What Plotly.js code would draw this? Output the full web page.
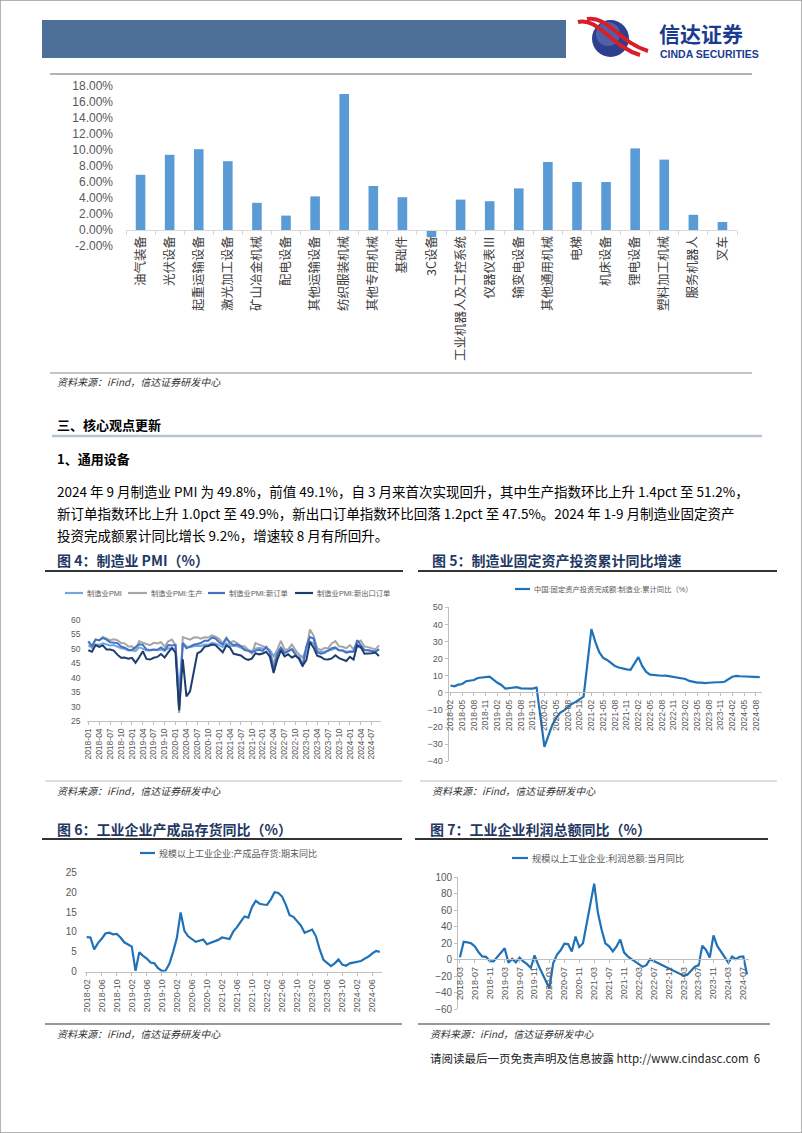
<!DOCTYPE html>
<html><head><meta charset="utf-8">
<script src="https://cdn.plot.ly/plotly-3.0.1.min.js"></script>
<style>html,body{margin:0;padding:0;background:#fff;}#page{width:802px;height:1133px;}</style>
</head><body><div id="page"></div>
<script>
// ---------------- DATA ----------------
const BAR_CATEGORIES = ['油气装备','光伏设备','起重运输设备','激光加工设备','矿山冶金机械','配电设备','其他运输设备','纺织服装机械','其他专用机械','基础件','3C设备','工业机器人及工控系统','仪器仪表Ⅲ','输变电设备','其他通用机械','电梯','机床设备','锂电设备','塑料加工机械','服务机器人','叉车'];
const BAR_VALUES = [6.9, 9.4, 10.1, 8.6, 3.4, 1.8, 4.2, 17.0, 5.5, 4.1, -0.9, 3.8, 3.6, 5.2, 8.5, 6.0, 6.0, 10.2, 8.8, 1.9, 1.0];
const BAR_TICK_VALUES = [-2, 0, 2, 4, 6, 8, 10, 12, 14, 16, 18];
const BAR_TICK_TEXT = ['-2.00%','0.00%','2.00%','4.00%','6.00%','8.00%','10.00%','12.00%','14.00%','16.00%','18.00%'];

// Fig 4: PMI, 2018-01 .. 2024-09
const PMI = [51.3,50.3,51.5,51.4,51.9,51.5,51.2,51.3,50.8,50.2,50.0,49.4, 49.5,49.2,50.5,50.1,49.4,49.4,49.7,49.5,49.8,49.3,50.2,50.2, 50.0,35.7,52.0,50.8,50.6,50.9,51.1,51.0,51.5,51.4,52.1,51.9, 51.3,50.6,51.9,51.1,51.0,50.9,50.4,50.1,49.6,49.2,50.1,50.3, 50.1,50.2,49.5,47.4,49.6,50.2,49.0,49.4,50.1,49.2,48.0,47.0, 50.1,52.6,51.9,49.2,48.8,49.0,49.3,49.7,50.2,49.5,49.4,49.0, 49.2,49.1,50.8,50.4,49.5,49.5,49.4,49.1,49.8];
const PMI_PROD = [52.6,50.7,53.1,53.1,54.1,53.6,53.0,53.3,53.0,52.0,51.9,50.8, 50.9,49.5,52.7,52.1,51.7,51.3,52.1,51.9,52.3,50.8,52.6,53.2, 51.3,27.8,54.1,53.7,53.2,53.9,54.0,53.5,54.0,53.9,54.7,54.2, 53.5,51.9,53.9,52.2,52.7,51.9,51.0,50.9,49.5,48.4,52.0,51.4, 50.9,50.4,49.5,44.4,49.7,52.8,49.8,49.8,51.5,49.6,47.8,44.6, 49.8,56.7,54.6,50.2,49.6,50.3,50.2,51.9,52.7,50.9,50.7,50.2, 51.3,49.8,52.2,52.9,50.8,50.6,50.1,49.8,51.2];
const PMI_NEWORDER = [52.6,51.0,53.3,52.9,53.8,53.2,52.3,52.2,52.0,50.8,50.4,49.7, 49.6,50.6,51.6,51.4,49.8,49.6,49.8,49.7,50.5,49.6,51.3,51.2, 51.4,29.3,52.0,50.2,50.9,51.4,51.7,52.0,52.8,52.8,53.9,53.6, 52.3,51.5,53.6,52.0,51.3,51.5,50.9,49.6,49.3,48.8,49.4,49.7, 49.3,50.7,48.8,42.6,48.2,50.4,48.5,49.2,49.8,48.1,46.4,43.9, 50.9,54.1,53.6,48.8,48.3,48.6,49.5,50.2,50.5,49.5,49.4,48.7, 49.0,49.0,53.0,51.1,49.6,49.5,49.3,48.9,49.9];
const PMI_EXPORT = [49.5,49.0,51.3,50.7,51.2,49.8,49.8,49.4,48.0,46.9,47.0,46.6, 46.9,45.2,47.1,49.2,46.5,46.3,46.9,47.2,48.2,47.0,48.8,50.3, 48.7,28.7,46.4,33.5,35.3,42.6,48.4,49.1,50.8,51.0,51.5,51.3, 50.2,48.8,51.2,50.4,48.3,48.1,47.7,46.7,46.2,46.6,48.5,48.1, 48.4,49.0,47.2,41.6,46.2,49.5,47.4,48.1,47.0,47.6,46.7,44.2, 46.1,52.4,50.4,47.6,47.2,46.4,46.3,46.7,47.8,46.8,46.3,45.8, 47.2,46.3,51.3,50.6,48.3,48.3,48.5,48.7,47.5];
const PMI_NAMES = ['制造业PMI','制造业PMI:生产','制造业PMI:新订单','制造业PMI:新出口订单'];

// Fig 5: manufacturing FAI cumulative YoY, 2018-02 .. 2024-09 (January not published)
const FAI = [4.3,3.8,4.8,5.2,6.8,7.3,7.5,8.7,9.1,9.5,9.5,
  null,5.9,4.6,2.5,2.7,3.0,3.3,2.6,2.5,2.6,2.5,3.1,
  null,-31.5,-25.2,-18.8,-14.8,-11.7,-10.2,-8.1,-6.5,-5.3,-3.5,-2.2,
  null,37.3,29.8,23.8,20.4,19.2,17.3,15.7,14.8,14.2,13.7,13.5,
  null,20.9,15.6,12.2,10.6,10.4,9.9,10.0,10.1,9.7,9.3,9.1,
  null,8.1,7.0,6.4,6.0,6.0,5.7,5.9,6.2,6.2,6.3,6.5,
  null,9.4,9.9,9.7,9.6,9.5,9.3,9.1,9.2];
const FAI_NAME = '中国:固定资产投资完成额:制造业:累计同比（%）';

// Fig 6: finished goods inventory YoY, 2018-02 .. 2024-08
const INVENTORY = [8.7,8.6,5.6,7.2,8.3,9.6,9.8,9.4,9.5,8.6,7.4,
  6.8,6.3,0.2,4.9,4.0,3.3,2.3,2.1,0.9,0.2,0.3,2.0,
  5.0,8.5,14.9,10.3,8.9,8.3,7.5,7.8,8.1,6.9,7.3,7.5,
  8.0,8.6,8.4,8.2,10.1,11.2,12.6,13.9,13.6,16.3,17.8,17.1,
  16.9,16.8,18.2,20.0,19.8,18.9,16.8,14.2,13.8,12.7,11.6,9.8,
  10.2,10.6,8.9,5.6,3.0,2.2,1.4,2.1,3.1,1.8,1.5,2.1,
  2.3,2.4,2.7,3.3,3.8,4.6,5.2,5.0];
const INVENTORY_NAME = '规模以上工业企业:产成品存货:期末同比';

// Fig 7: industrial profits monthly YoY, 2018-03 .. 2024-08
const PROFIT = [3.1,21.9,21.1,20.0,16.2,9.2,4.1,3.6,-1.8,-1.9,
  null,null,13.9,-3.7,1.1,-3.1,2.6,-2.0,-5.3,-9.9,5.4,-6.3,
  null,null,-34.9,-4.3,6.0,11.5,19.6,19.1,10.1,28.2,15.5,20.1,
  null,null,92.3,57.0,36.4,20.0,16.4,10.1,16.3,24.6,9.0,4.2,
  null,null,null,-8.5,-6.5,0.8,null,null,null,null,null,null,
  null,null,-19.2,-18.2,-12.6,-8.3,-6.7,17.2,11.9,2.7,29.5,16.8,
  null,null,-3.5,4.0,0.7,3.6,4.1,-17.8];
const PROFIT_NAME = '规模以上工业企业:利润总额:当月同比';

function monthRange(y0, m0, y1, m1) {
  const out = []; let y = y0, m = m0;
  while (y < y1 || (y === y1 && m <= m1)) { out.push(y + '-' + String(m).padStart(2, '0')); m++; if (m > 12) { m = 1; y++; } }
  return out;
}
const PMI_MONTHS = monthRange(2018, 1, 2024, 9);
const FAI_MONTHS = monthRange(2018, 2, 2024, 9);
const INV_MONTHS = monthRange(2018, 2, 2024, 8);
const PROFIT_MONTHS = monthRange(2018, 3, 2024, 8);
const PMI_TICKS = PMI_MONTHS.filter((_, i) => i % 3 === 0);
const FAI_TICKS = FAI_MONTHS.filter((_, i) => i % 3 === 0);
const INV_TICKS = INV_MONTHS.filter((_, i) => i % 4 === 0);
const PROFIT_TICKS = PROFIT_MONTHS.filter((_, i) => i % 4 === 0);

// ---------------- LAYOUT HELPERS ----------------
const W = 802, H = 1133;
const X = p => p / W, Y = p => 1 - p / H;
const CJK = 'Noto Sans CJK SC, Liberation Sans, sans-serif';
const SANS = 'Liberation Sans, Noto Sans CJK SC, sans-serif';
const GREY = '#595959';

const shapes = [];
const annotations = [];
function hline(x0, x1, y, color, width) {
  shapes.push({type:'line', xref:'paper', yref:'paper', x0:X(x0), x1:X(x1), y0:Y(y), y1:Y(y), line:{color:color, width:width}});
}
function text(x, y, t, size, opts) {
  opts = opts || {};
  annotations.push({xref:'paper', yref:'paper', x:X(x), y:Y(y), text:t, showarrow:false,
    xanchor: opts.xanchor || 'left', yanchor:'middle',
    font:{family: opts.family || CJK, size:size, color: opts.color || '#000'}});
}
function legendItem(x0, x1, y, color, label, size) {
  shapes.push({type:'line', xref:'paper', yref:'paper', x0:X(x0), x1:X(x1), y0:Y(y), y1:Y(y), line:{color:color, width:2.2}});
  text(x1 + 2, y, label, size, {color:GREY, family:SANS});
}

// page border
shapes.push({type:'rect', xref:'paper', yref:'paper', x0:0, x1:1, y0:0, y1:1, line:{color:'#9a9a9a', width:1.5}});
// header bar
shapes.push({type:'rect', xref:'paper', yref:'paper', x0:X(42), x1:X(566), y0:Y(58), y1:Y(20), fillcolor:'#4D7098', line:{width:0}});
// logo
shapes.push({type:'circle', xref:'paper', yref:'paper', x0:X(592), x1:X(629), y0:Y(57), y1:Y(20), fillcolor:'#2E3F8F', line:{width:0}});
shapes.push({type:'circle', xref:'paper', yref:'paper', x0:X(596), x1:X(620), y0:Y(46), y1:Y(22), fillcolor:'rgba(120,140,200,0.45)', line:{width:0}});
shapes.push({type:'path', xref:'paper', yref:'paper',
  path:`M ${X(578)} ${Y(22)} C ${X(598)} ${Y(17)}, ${X(612)} ${Y(47)}, ${X(640)} ${Y(55)}`,
  line:{color:'#D71E2B', width:4}});
shapes.push({type:'path', xref:'paper', yref:'paper',
  path:`M ${X(587)} ${Y(19)} C ${X(607)} ${Y(15)}, ${X(620)} ${Y(43)}, ${X(648)} ${Y(51)}`,
  line:{color:'#D71E2B', width:4}});
text(657, 32.5, '<b>信达证券</b>', 21, {color:'#1B3C8E'});
text(658, 53.5, '<b>CINDA SECURITIES</b>', 10.5, {color:'#1B3C8E', family:SANS});
hline(50, 752, 74, '#9a9a9a', 1.5);

// bar chart section
hline(50, 752, 373, '#8c8c8c', 1.2);
text(55, 381, '<i>资料来源：iFind，信达证券研发中心</i>', 10, {color:'#333'});
text(55, 424, '<b>三、核心观点更新</b>', 13);
hline(52, 762, 436, '#B9C4D2', 2.5);
text(55, 459, '<b>1、通用设备</b>', 13);
text(55, 491, '2024 年 9 月制造业 PMI 为 49.8%，前值 49.1%，自 3 月来首次实现回升，其中生产指数环比上升 1.4pct 至 51.2%，', 13.5);
text(55, 513, '新订单指数环比上升 1.0pct 至 49.9%，新出口订单指数环比回落 1.2pct 至 47.5%。2024 年 1-9 月制造业固定资产', 13.5);
text(55, 535, '投资完成额累计同比增长 9.2%，增速较 8 月有所回升。', 13.5);

// chart titles & rules
const TITLE_C = '#1F3864';
text(55, 560, '<b>图 4：制造业 PMI（%）</b>', 14, {color:TITLE_C});
text(430, 560, '<b>图 5：制造业固定资产投资累计同比增速</b>', 14, {color:TITLE_C});
hline(45, 403, 571, '#333', 2);
hline(418, 777, 571, '#333', 2);
hline(45, 402, 781, '#bfbfbf', 1);
hline(420, 777, 781, '#bfbfbf', 1);
text(55, 790, '<i>资料来源：iFind，信达证券研发中心</i>', 10, {color:'#333'});
text(430, 790, '<i>资料来源：iFind，信达证券研发中心</i>', 10, {color:'#333'});

text(55, 829, '<b>图 6：工业企业产成品存货同比（%）</b>', 14, {color:TITLE_C});
text(428, 829, '<b>图 7：工业企业利润总额同比（%）</b>', 14, {color:TITLE_C});
hline(42, 402, 839, '#333', 2);
hline(415, 768, 839, '#333', 2);
hline(45, 402, 1024, '#333', 1.2);
hline(418, 770, 1024, '#333', 1.2);
text(55, 1033, '<i>资料来源：iFind，信达证券研发中心</i>', 10, {color:'#333'});
text(428, 1033, '<i>资料来源：iFind，信达证券研发中心</i>', 10, {color:'#333'});
text(762, 1058, '请阅读最后一页免责声明及信息披露 http://www.cindasc.com  6', 11.5, {xanchor:'right', color:'#222'});

// legends (manual, to match compact reference legends)
const PMI_COLORS = ['#6FA8DC', '#A6A6A6', '#4472C4', '#1F3C6E'];
legendItem(65, 83, 593, PMI_COLORS[0], PMI_NAMES[0], 7.3);
legendItem(128, 147, 593, PMI_COLORS[1], PMI_NAMES[1], 7.3);
legendItem(208, 225, 593, PMI_COLORS[2], PMI_NAMES[2], 7.3);
legendItem(295, 313, 593, PMI_COLORS[3], PMI_NAMES[3], 7.3);
const LINE_C = '#1F71B8';
legendItem(515, 530, 589, LINE_C, FAI_NAME, 7.3);
legendItem(140, 155, 853, LINE_C, INVENTORY_NAME, 9);
legendItem(512, 528, 858, LINE_C, PROFIT_NAME, 9.2);

// ---------------- TRACES ----------------
const traces = [];
traces.push({type:'bar', x:BAR_CATEGORIES, y:BAR_VALUES, xaxis:'x', yaxis:'y', width:0.33,
  marker:{color:'#5B9BD5'}, showlegend:false, hoverinfo:'skip'});
[PMI, PMI_PROD, PMI_NEWORDER, PMI_EXPORT].forEach((s, i) => {
  traces.push({type:'scatter', mode:'lines', x:PMI_MONTHS, y:s, name:PMI_NAMES[i], xaxis:'x2', yaxis:'y2',
    line:{color:PMI_COLORS[i], width:2}, showlegend:false});
});
traces.push({type:'scatter', mode:'lines', x:FAI_MONTHS, y:FAI, name:FAI_NAME, xaxis:'x3', yaxis:'y3',
  connectgaps:true, line:{color:LINE_C, width:2.2}, showlegend:false});
traces.push({type:'scatter', mode:'lines', x:INV_MONTHS, y:INVENTORY, name:INVENTORY_NAME, xaxis:'x4', yaxis:'y4',
  connectgaps:true, line:{color:LINE_C, width:2.2}, showlegend:false, cliponaxis:false});
traces.push({type:'scatter', mode:'lines', x:PROFIT_MONTHS, y:PROFIT, name:PROFIT_NAME, xaxis:'x5', yaxis:'y5',
  connectgaps:true, line:{color:LINE_C, width:2.2}, showlegend:false});

// ---------------- AXES ----------------
const tickF = (s) => ({family:SANS, size:s, color:GREY});
const layout = {
  width:W, height:H, margin:{l:0, r:0, t:0, b:0}, paper_bgcolor:'#fff', plot_bgcolor:'rgba(0,0,0,0)',
  showlegend:false, font:{family:SANS}, shapes:shapes, annotations:annotations,
  // bar chart
  xaxis:{domain:[X(126), X(737)], anchor:'free', position:Y(230), type:'category', tickangle:-90,
    tickfont:{family:CJK, size:12.5, color:'#404040'}, showline:true, linecolor:'#d9d9d9', linewidth:1,
    ticks:'outside', ticklen:4, tickcolor:'#d9d9d9', tickson:'boundaries', showgrid:false, zeroline:false, fixedrange:true},
  yaxis:{domain:[Y(246), Y(86)], range:[-2, 18], tickmode:'array', tickvals:BAR_TICK_VALUES, ticktext:BAR_TICK_TEXT,
    tickfont:tickF(12), showgrid:false, zeroline:false, showline:false, ticklabelstandoff:12, fixedrange:true},
  // fig 4
  xaxis2:{domain:[X(86.5), X(380.8)], anchor:'y2', type:'category', range:[-0.5, 80.5], tickmode:'array',
    tickvals:PMI_TICKS, ticktext:PMI_TICKS, tickangle:-90, tickfont:tickF(8.5), showline:true, linecolor:'#bfbfbf',
    ticks:'outside', ticklen:3, tickcolor:'#bfbfbf', showgrid:false, zeroline:false},
  yaxis2:{domain:[Y(721), Y(620)], anchor:'x2', range:[25, 60], dtick:5, tick0:25, tickfont:tickF(8.5),
    showgrid:false, zeroline:false, showline:false, ticklabelstandoff:5},
  // fig 5
  xaxis3:{domain:[X(448.5), X(761.7)], anchor:'free', position:Y(692.3), type:'category', range:[-0.5, 79.5],
    tickmode:'array', tickvals:FAI_TICKS, ticktext:FAI_TICKS, tickangle:-90, tickfont:tickF(8.5), showline:true,
    linecolor:'#bfbfbf', ticks:'outside', ticklen:3, tickcolor:'#bfbfbf', showgrid:false, zeroline:false},
  yaxis3:{domain:[Y(761.3), Y(607.3)], anchor:'x3', range:[-40, 50], dtick:10, tick0:0, tickfont:tickF(9),
    showgrid:false, zeroline:false, showline:true, linecolor:'#bfbfbf', ticks:'outside', ticklen:3, tickcolor:'#bfbfbf'},
  // fig 6
  xaxis4:{domain:[X(84.8), X(381.7)], anchor:'y4', type:'category', range:[-0.5, 78.5], tickmode:'array',
    tickvals:INV_TICKS, ticktext:INV_TICKS, tickangle:-90, tickfont:tickF(9), showline:true, linecolor:'#bfbfbf',
    ticks:'outside', ticklen:3, tickcolor:'#bfbfbf', showgrid:false, zeroline:false},
  yaxis4:{domain:[Y(971.7), Y(872.3)], anchor:'x4', range:[0, 25], dtick:5, tick0:0, tickfont:tickF(10),
    showgrid:false, zeroline:false, showline:false, ticklabelstandoff:7},
  // fig 7
  xaxis5:{domain:[X(458.1), X(748.9)], anchor:'free', position:Y(959.3), type:'category', range:[-0.5, 77.5],
    tickmode:'array', tickvals:PROFIT_TICKS, ticktext:PROFIT_TICKS, tickangle:-90, tickfont:tickF(9), showline:true,
    linecolor:'#bfbfbf', ticks:'outside', ticklen:3, tickcolor:'#bfbfbf', showgrid:false, zeroline:false},
  yaxis5:{domain:[Y(1009.3), Y(877.3)], anchor:'x5', range:[-60, 100], dtick:20, tick0:0, tickfont:tickF(10),
    showgrid:false, zeroline:false, showline:true, linecolor:'#bfbfbf', ticks:'outside', ticklen:3, tickcolor:'#bfbfbf'}
};

Plotly.newPlot('page', traces, layout, {staticPlot:true, displayModeBar:false});
</script>
</body></html>
